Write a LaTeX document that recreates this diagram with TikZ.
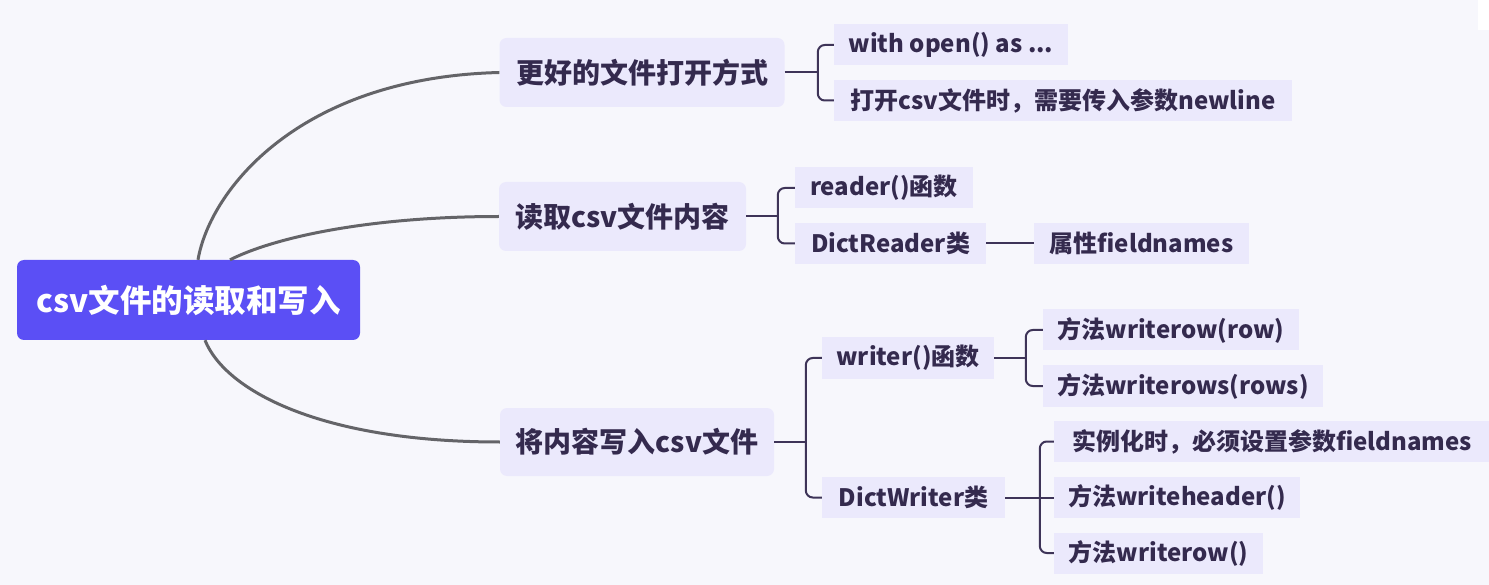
\documentclass[tikz,border=0pt]{standalone}
\usepackage{fontspec}
\setmainfont{Noto Sans CJK SC}
\usetikzlibrary{calc}
\definecolor{bgc}{RGB}{247,247,252}
\definecolor{rootc}{RGB}{91,79,245}
\definecolor{boxc}{RGB}{235,233,252}
\definecolor{txtc}{RGB}{52,42,78}
\definecolor{brc}{RGB}{62,52,88}
\definecolor{curvec}{RGB}{100,100,104}
\tikzset{
  rootbox/.style={fill=rootc, rounded corners=7pt, inner sep=0pt, text=white,
    font=\fontsize{31.5}{36}\selectfont\bfseries},
  lonebox/.style={fill=boxc, rounded corners=7pt, inner sep=0pt, text=txtc,
    font=\fontsize{28}{32}\selectfont\bfseries},
  ltwobox/.style={fill=boxc, inner sep=0pt, text=txtc, minimum height=41pt,
    font=\fontsize{24}{28}\selectfont\bfseries},
  rootline/.style={draw=curvec, line width=3pt},
  brline/.style={draw=brc, line width=2pt, rounded corners=7pt},
}
\begin{document}
\begin{tikzpicture}[x=1pt,y=-1pt]
\useasboundingbox (0,0) rectangle (1489,585);
\fill[bgc] (0,0) rectangle (1489,585);
\fill[white] (1478,0) rectangle (1489,30);
% root
\node[rootbox, minimum width=343pt, minimum height=80pt] (root) at (188.5,300) {csv文件的读取和写入};
% level 1
\node[lonebox, minimum width=285pt, minimum height=69pt] (a1) at (642,72.5) {更好的文件打开方式};
\node[lonebox, minimum width=247pt, minimum height=69pt] (a2) at (622.5,216.5) {读取csv文件内容};
\node[lonebox, minimum width=274pt, minimum height=68pt] (a3) at (637,442) {将内容写入csv文件};
% level 2
\node[ltwobox, minimum width=234pt] (b1) at (951,45) {with open() as ...};
\node[ltwobox, minimum width=458pt] (b2) at (1063,100.5) {打开csv文件时，需要传入参数newline};
\node[ltwobox, minimum width=178pt] (c1) at (884,188) {reader()函数};
\node[ltwobox, minimum width=191pt] (c2) at (890.5,243.5) {DictReader类};
\node[ltwobox, minimum width=215pt] (c3) at (1141.5,243.5) {属性fieldnames};
\node[ltwobox, minimum width=172pt] (d1) at (908,358) {writer()函数};
\node[ltwobox, minimum width=183pt] (d2) at (913.5,497.5) {DictWriter类};
\node[ltwobox, minimum width=256pt] (e1) at (1171,330) {方法writerow(row)};
\node[ltwobox, minimum width=280pt] (e2) at (1183,386) {方法writerows(rows)};
\node[ltwobox, minimum width=436pt] (f1) at (1272,441.5) {实例化时，必须设置参数fieldnames};
\node[ltwobox, minimum width=246pt] (f2) at (1177,497.5) {方法writeheader()};
\node[ltwobox, minimum width=209pt] (f3) at (1158.5,553) {方法writerow()};
% root curves
\draw[rootline] ([xshift=9.5pt]root.north) .. controls +(12,-70) and +(-200,5) .. (a1.west);
\draw[rootline] ([xshift=41.5pt]root.north) .. controls +(50,-25) and +(-120,0) .. (a2.west);
\draw[rootline] ([xshift=16.5pt]root.south) .. controls +(20,50) and +(-180,0) .. (a3.west);
% brackets
\draw[brline] (a1.east) -- ++(33,0);
\draw[brline] (b1.west) -- ++(-16,0) |- (b2.west);
\draw[brline] (a2.east) -- ++(32,0);
\draw[brline] (c1.west) -- ++(-17,0) |- (c2.west);
\draw[brline] (c2.east) -- (c3.west);
\draw[brline] (a3.east) -- ++(33,0);
\draw[brline] (d1.west) -- ++(-16,0) |- (d2.west);
\draw[brline] (d1.east) -- ++(32,0);
\draw[brline] (e1.west) -- ++(-17,0) |- (e2.west);
\draw[brline] (d2.east) -- (f2.west);
\draw[brline] (f1.west) -- ++(-14,0) |- (f3.west);
\end{tikzpicture}
\end{document}
